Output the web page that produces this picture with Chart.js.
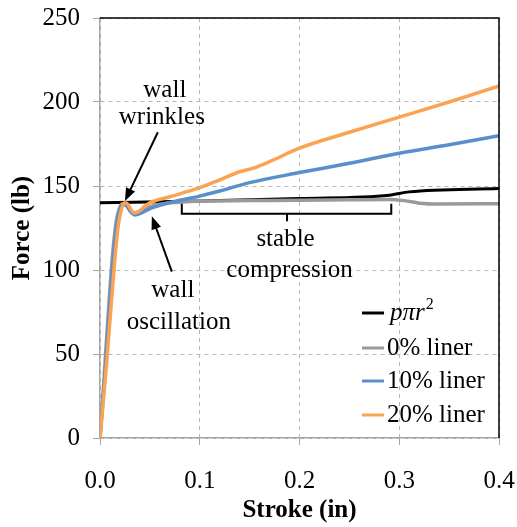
<!DOCTYPE html>
<html>
<head>
<meta charset="utf-8">
<script src="https://cdn.jsdelivr.net/npm/chart.js@4.4.1/dist/chart.umd.min.js"></script>
<style>
  html, body { margin: 0; padding: 0; background: #fff; }
  #wrap { width: 517px; height: 527px; }
</style>
</head>
<body>
<div id="wrap"><canvas id="forceChart" width="517" height="527"></canvas></div>
<script>
// tick labels
const xTicks = [0, 0.1, 0.2, 0.3, 0.4];
const yTicks = [0, 50, 100, 150, 200, 250];

// p*pi*r^2
const baseStroke = [0, 0.1, 0.2, 0.29, 0.31, 0.4];
const baseForce = [140, 141, 142.5, 144.5, 146.5, 148.5];

// 0% liner
const liner0Stroke = [0, 0.004, 0.008, 0.012, 0.016, 0.019, 0.022, 0.026, 0.030, 0.034, 0.038, 0.045, 0.055, 0.07, 0.1, 0.15, 0.2, 0.25, 0.29, 0.305, 0.32, 0.34, 0.4];
const liner0Force = [0, 35, 72, 105, 128, 136, 139.5, 139, 135.5, 134, 134.5, 136.5, 138.5, 140, 141, 141.3, 141.5, 141.8, 142, 141.3, 139.8, 139.3, 139.5];

// 10% liner
const liner10Stroke = [0, 0.005, 0.009, 0.013, 0.017, 0.02, 0.023, 0.027, 0.031, 0.035, 0.04, 0.05, 0.06, 0.08, 0.1, 0.12, 0.15, 0.2, 0.25, 0.3, 0.35, 0.4];
const liner10Force = [0, 38, 72, 105, 128, 136, 139, 138, 134.5, 132.8, 133.5, 136.5, 138.5, 141.5, 144, 147, 152, 158, 163.5, 169.5, 174.5, 180];

// 20% liner
const liner20Stroke = [0, 0.006, 0.01, 0.014, 0.018, 0.022, 0.025, 0.028, 0.031, 0.034, 0.038, 0.045, 0.05, 0.07, 0.1, 0.12, 0.14, 0.153, 0.17, 0.2, 0.25, 0.3, 0.35, 0.4];
const liner20Force = [0, 40, 70, 100, 125, 137, 140, 139, 136, 134, 134.5, 138, 140, 143.6, 149, 153.6, 158.5, 160.5, 164.5, 172.5, 182, 191, 200, 209.5];

const FONT = "'Liberation Serif', 'Times New Roman', serif";
Chart.defaults.font.family = FONT;
Chart.defaults.color = "#000";

function pts(xs, ys) {
    return xs.map((x, i) => ({ x: x, y: ys[i] }));
}

function arrow(ctx, x1, y1, x2, y2) {
    const a = Math.atan2(y2 - y1, x2 - x1);
    ctx.beginPath();
    ctx.moveTo(x1, y1);
    ctx.lineTo(x2 - 8 * Math.cos(a), y2 - 8 * Math.sin(a));
    ctx.stroke();
    ctx.beginPath();
    ctx.moveTo(x2, y2);
    ctx.lineTo(x2 - 13 * Math.cos(a) + 5 * Math.sin(a), y2 - 13 * Math.sin(a) - 5 * Math.cos(a));
    ctx.lineTo(x2 - 13 * Math.cos(a) - 5 * Math.sin(a), y2 - 13 * Math.sin(a) + 5 * Math.cos(a));
    ctx.closePath();
    ctx.fill();
}

// frame top/right, annotations, legend
const extras = {
    id: "extras",
    afterDatasetsDraw(chart) {
        const ctx = chart.ctx;
        const area = chart.chartArea;
        const xs = chart.scales.x, ys = chart.scales.y;
        const X = v => xs.getPixelForValue(v);
        const Y = v => ys.getPixelForValue(v);

        ctx.save();
        ctx.strokeStyle = "#000";
        ctx.lineWidth = 1.5;
        ctx.beginPath();
        ctx.moveTo(area.left, area.top);
        ctx.lineTo(area.right, area.top);
        ctx.lineTo(area.right, area.bottom);
        ctx.stroke();

        // text notes
        ctx.fillStyle = "#000";
        ctx.font = "25px " + FONT;
        ctx.textAlign = "center";
        ctx.textBaseline = "middle";
        ctx.fillText("wall", X(0.065), Y(207));
        ctx.fillText("wrinkles", X(0.062), Y(191));
        ctx.fillText("wall", X(0.073), Y(88));
        ctx.fillText("oscillation", X(0.079), Y(69));
        ctx.fillText("stable", X(0.186), Y(118));
        ctx.fillText("compression", X(0.19), Y(100));

        ctx.lineWidth = 2;
        arrow(ctx, X(0.058), Y(182), X(0.025), Y(141));
        arrow(ctx, X(0.072), Y(99), X(0.052), Y(132));

        // bracket
        ctx.beginPath();
        ctx.moveTo(X(0.082), Y(139.5));
        ctx.lineTo(X(0.082), Y(133.5));
        ctx.lineTo(X(0.292), Y(133.5));
        ctx.lineTo(X(0.292), Y(139.5));
        ctx.moveTo(X(0.1875), Y(133.5));
        ctx.lineTo(X(0.1875), Y(129));
        ctx.stroke();

        // legend
        const lx = area.right - 137;
        const rows = [area.bottom - 125, area.bottom - 90, area.bottom - 57, area.bottom - 23];
        chart.data.datasets.forEach((ds, i) => {
            const y = rows[i];
            ctx.strokeStyle = ds.borderColor;
            ctx.lineWidth = 3;
            ctx.beginPath();
            ctx.moveTo(lx, y);
            ctx.lineTo(lx + 22, y);
            ctx.stroke();
            ctx.textAlign = "left";
            ctx.textBaseline = "middle";
            ctx.fillStyle = "#000";
            if (i === 0) {
                ctx.font = "italic 25px " + FONT;
                ctx.fillText("pπr", lx + 28, y);
                const w = ctx.measureText("pπr").width;
                ctx.font = "16px " + FONT;
                ctx.fillText("2", lx + 28 + w + 1, y - 8);
            } else {
                ctx.font = "25px " + FONT;
                ctx.fillText(ds.label, lx + 25, y);
            }
        });
        ctx.restore();
    }
};

const ctx = document.getElementById("forceChart").getContext("2d");
new Chart(ctx, {
    type: "scatter",
    data: {
        datasets: [
            { label: "pπr²", data: pts(baseStroke, baseForce), borderColor: "#000000", borderWidth: 3, order: 4 },
            { label: "0% liner", data: pts(liner0Stroke, liner0Force), borderColor: "#9a9a9a", borderWidth: 3.5, order: 3 },
            { label: "10% liner", data: pts(liner10Stroke, liner10Force), borderColor: "#5b8fcb", borderWidth: 3.5, order: 2 },
            { label: "20% liner", data: pts(liner20Stroke, liner20Force), borderColor: "#fba352", borderWidth: 3.5, order: 1 },
        ],
    },
    options: {
        responsive: false,
        animation: false,
        showLine: true,
        elements: {
            point: { radius: 0, hoverRadius: 0 },
            line: { cubicInterpolationMode: "monotone", fill: false },
        },
        layout: { padding: { left: 0, right: 18, top: 18, bottom: 0 } },
        plugins: { legend: { display: false }, tooltip: { enabled: false } },
        scales: {
            x: {
                type: "linear",
                min: 0,
                max: 0.4,
                afterBuildTicks: s => { s.ticks = xTicks.map(v => ({ value: v })); },
                afterFit: s => { s.height = 89; s.paddingLeft = 0; s.paddingRight = 0; },
                ticks: { font: { size: 25 }, padding: 21, callback: v => v.toFixed(1) },
                grid: { color: "#b5b5b5", tickColor: "#a6a6a6", tickLength: 7, lineWidth: 1 },
                border: { color: "#a6a6a6", width: 1.5, dash: [4, 4] },
                title: { display: true, text: "Stroke (in)", font: { size: 25, weight: "bold" }, padding: { top: 0, bottom: 1 } },
            },
            y: {
                min: 0,
                max: 250,
                afterBuildTicks: s => { s.ticks = yTicks.map(v => ({ value: v })); },
                afterFit: s => { s.width = 100; s.paddingTop = 0; s.paddingBottom = 0; },
                ticks: { font: { size: 25 }, padding: 13 },
                grid: { color: "#b5b5b5", tickColor: "#a6a6a6", tickLength: 7, lineWidth: 1 },
                border: { color: "#a6a6a6", width: 1.5, dash: [4, 4] },
                title: { display: true, text: "Force (lb)", font: { size: 25, weight: "bold" }, padding: { top: 8, bottom: 0 } },
            },
        },
    },
    plugins: [extras],
});
</script>
</body>
</html>
